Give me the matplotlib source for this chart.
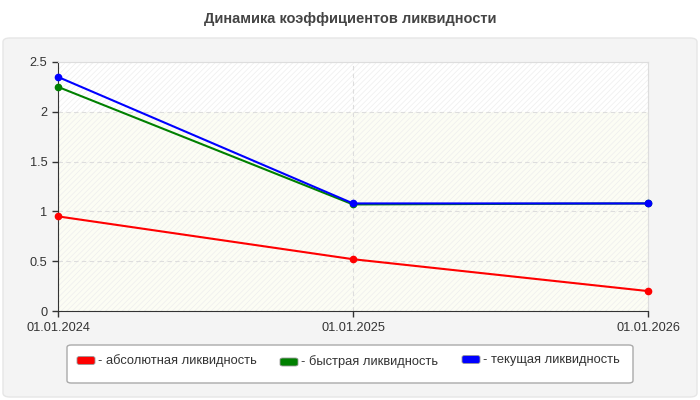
import matplotlib.pyplot as plt
from matplotlib.patches import FancyBboxPatch, Rectangle

plt.rcParams['font.family'] = ['Liberation Sans', 'DejaVu Sans']
plt.rcParams['hatch.linewidth'] = 0.5

dates = ["01.01.2024", "01.01.2025", "01.01.2026"]
absolute = [0.95, 0.52, 0.20]
quick = [2.25, 1.07, 1.08]
current = [2.35, 1.08, 1.08]
names = ["- абсолютная ликвидность", "- быстрая ликвидность", "- текущая ликвидность"]
colors = ["#ff0000", "#008000", "#0000ff"]

fig = plt.figure(figsize=(7, 4), dpi=100)
fig.patch.set_facecolor("white")
W, H = 700.0, 400.0

# grey rounded panel behind everything
panel = FancyBboxPatch((3 / W, 3 / H), 694 / W, 359 / H,
                       boxstyle="round,pad=0,rounding_size=0.01",
                       transform=fig.transFigure, facecolor="#f4f4f4",
                       edgecolor="#e6e6e6", linewidth=1, zorder=-5)
fig.add_artist(panel)

fig.text(0.5, 381 / H, "Динамика коэффициентов ликвидности", ha="center", va="center",
         fontsize=10.5, fontweight="bold", color="#444444")

ax = fig.add_axes([58 / W, 89 / H, 590 / W, 249 / H])
ax.set_zorder(2)
ax.set_facecolor("white")
ax.axhspan(0, 2, color="#fcfdf4", zorder=0, linewidth=0)
ax.add_patch(Rectangle((0, 0), 1, 1, transform=ax.transAxes, facecolor="none",
                       edgecolor="#eeeeee", hatch="//////", linewidth=0, zorder=0))

x = range(len(dates))
for vals, c in zip([absolute, quick, current], colors):
    ax.plot(x, vals, color=c, linewidth=1.5, marker="o", markersize=4.5, zorder=3, clip_on=False)

ax.set_xlim(0, 2)
ax.set_ylim(0, 2.5)
ax.set_yticks([0, 0.5, 1, 1.5, 2, 2.5])
ax.set_yticklabels(["0", "0.5", "1", "1.5", "2", "2.5"])
ax.set_xticks(list(x))
ax.set_xticklabels(dates)
ax.tick_params(labelsize=9.2, colors="#333333", length=4, width=1)
ax.tick_params(axis="x", pad=4)
ax.grid(True, color="#dddddd", linestyle=(0, (4, 3)), linewidth=0.8)
ax.set_axisbelow(True)
for s in ["top", "right"]:
    ax.spines[s].set_color("#dddddd")
for s in ["left", "bottom"]:
    ax.spines[s].set_color("#333333")

# legend box drawn by hand
legbox = FancyBboxPatch((67 / W, (H - 383) / H), 566 / W, 38 / H,
                        boxstyle="round,pad=0,rounding_size=0.006",
                        transform=fig.transFigure, facecolor="white",
                        edgecolor="#aaaaaa", linewidth=1, zorder=1)
fig.add_artist(legbox)
marker_x = [77, 280, 462]
marker_y = [360.5, 362, 359.5]
for mx, my, c, name in zip(marker_x, marker_y, colors, names):
    fig.add_artist(FancyBboxPatch((mx / W, (H - my - 4) / H), 18 / W, 8 / H,
                                  boxstyle="round,pad=0,rounding_size=0.004",
                                  transform=fig.transFigure, facecolor=c,
                                  edgecolor="#999999", linewidth=0.6, zorder=2))
    fig.text((mx + 21) / W, (H - my) / H, name, ha="left", va="center",
             fontsize=9.3, color="#333333", zorder=3)

fig.savefig("out.png", dpi=100)
